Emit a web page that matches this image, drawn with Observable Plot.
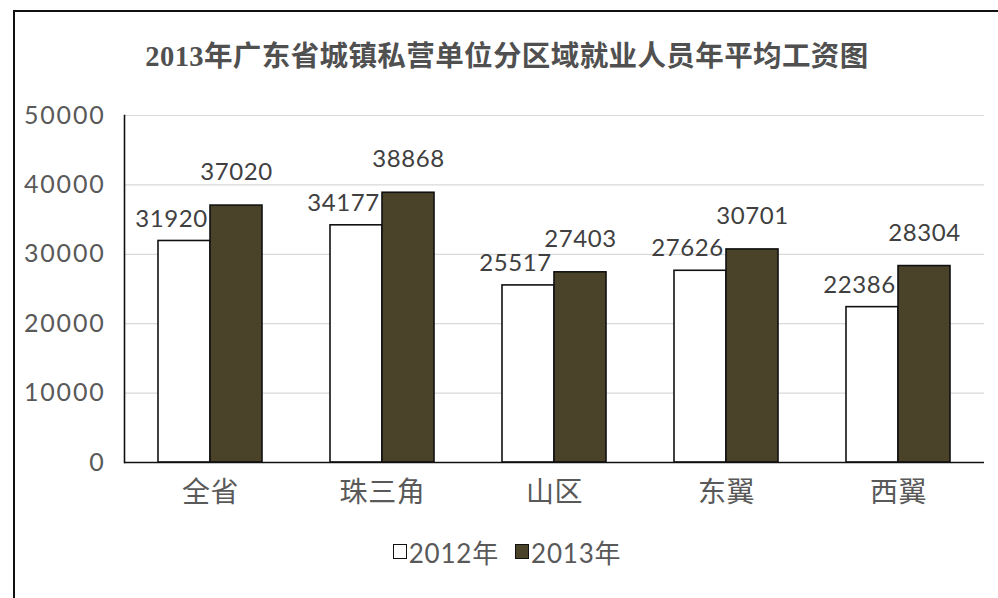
<!DOCTYPE html>
<html>
<head>
<meta charset="utf-8">
<script src="https://cdn.jsdelivr.net/npm/d3@7"></script>
<script src="https://cdn.jsdelivr.net/npm/@observablehq/plot@0.6"></script>
<style>
  html, body { margin: 0; padding: 0; background: #fff; }
  #wrap { position: relative; width: 998px; height: 598px; overflow: hidden; background: #fff; }
  #frame { position: absolute; left: 13px; top: 10px; width: 1100px; height: 700px; border: 2px solid #111; box-sizing: border-box; }
  #title { position: absolute; top: 33px; left: 0; width: 1014px; text-align: center;
    font-family: "Liberation Serif", "Noto Sans CJK SC", serif; font-weight: bold; font-size: 28.5px; color: #505050; letter-spacing: 0.4px; }
  #chart { position: absolute; left: 0; top: 0; }
  #legend { position: absolute; top: 533px; left: 0; width: 1014px; text-align: center;
    font-family: "Lato", "Noto Sans CJK SC", sans-serif; font-size: 26px; color: #595959; letter-spacing: 0.8px; }
  #legend span.item { display: inline-flex; align-items: center; margin: 0 8px; }
  #legend span.sw { display: inline-block; width: 12px; height: 13px; border: 1.5px solid #111; margin-right: 2px; }
  svg text { letter-spacing: 0.6px; }
  svg g[aria-label="y-axis tick label"] text { letter-spacing: 1.8px; }
</style>
</head>
<body>
<div id="wrap">
  <div id="frame"></div>
  <div id="chart"></div>
  <div id="title"></div>
  <div id="legend"></div>
</div>
<script>
const titleText = "2013年广东省城镇私营单位分区域就业人员年平均工资图";
const categories = ["全省", "珠三角", "山区", "东翼", "西翼"];
const series = ["2012年", "2013年"];
const values2012 = [31920, 34177, 25517, 27626, 22386];
const values2013 = [37020, 38868, 27403, 30701, 28304];
const yTicks = [0, 10000, 20000, 30000, 40000, 50000];
const seriesColors = ["#ffffff", "#4a4229"];

const data2012 = categories.map((c, i) => ({cat: c, year: series[0], v: values2012[i]}));
const data2013 = categories.map((c, i) => ({cat: c, year: series[1], v: values2013[i]}));
const data = data2012.concat(data2013);

document.getElementById("title").textContent = titleText;

const chart = Plot.plot({
  width: 998,
  height: 598,
  marginLeft: 122,
  marginRight: 12,
  marginTop: 115,
  marginBottom: 136,
  style: {fontFamily: "Lato, 'Noto Sans CJK SC', sans-serif", background: "transparent", overflow: "visible"},
  fx: {domain: categories, padding: 0, label: null},
  x: {domain: series, paddingInner: 0, paddingOuter: 0.63, axis: null},
  y: {domain: [0, 50000], label: null},
  color: {domain: series, range: seriesColors},
  marks: [
    Plot.gridY(yTicks, {stroke: "#d9d9d9", strokeOpacity: 1, strokeWidth: 1.2}),
    Plot.barY(data, {fx: "cat", x: "year", y: "v", fill: "year", stroke: "#111", strokeWidth: 1.6}),
    Plot.ruleY([0], {stroke: "#111", strokeWidth: 1.6}),
    Plot.frame({anchor: "left", facetAnchor: "left", stroke: "#111", strokeWidth: 1.6}),
    Plot.axisY(yTicks, {tickSize: 0, tickPadding: 19, fontSize: 25, fill: "#595959", label: null, tickFormat: d => String(d)}),
    Plot.axisFx({anchor: "bottom", tickSize: 0, tickPadding: 20, fontSize: 28, fill: "#595959", label: null, fontFamily: "'Noto Sans CJK SC', sans-serif"}),
    Plot.text(data2012, {fx: "cat", x: "year", y: "v", text: d => String(d.v), dy: -22, dx: -13, fontSize: 24, fill: "#404040"}),
    Plot.text(data2013, {fx: "cat", x: "year", y: "v", text: d => String(d.v), dy: -33, fontSize: 24, fill: "#404040"})
  ]
});
document.getElementById("chart").appendChild(chart);

const legend = document.getElementById("legend");
series.forEach((s, i) => {
  const item = document.createElement("span");
  item.className = "item";
  const sw = document.createElement("span");
  sw.className = "sw";
  sw.style.background = seriesColors[i];
  item.appendChild(sw);
  item.appendChild(document.createTextNode(s));
  legend.appendChild(item);
});
</script>
</body>
</html>
